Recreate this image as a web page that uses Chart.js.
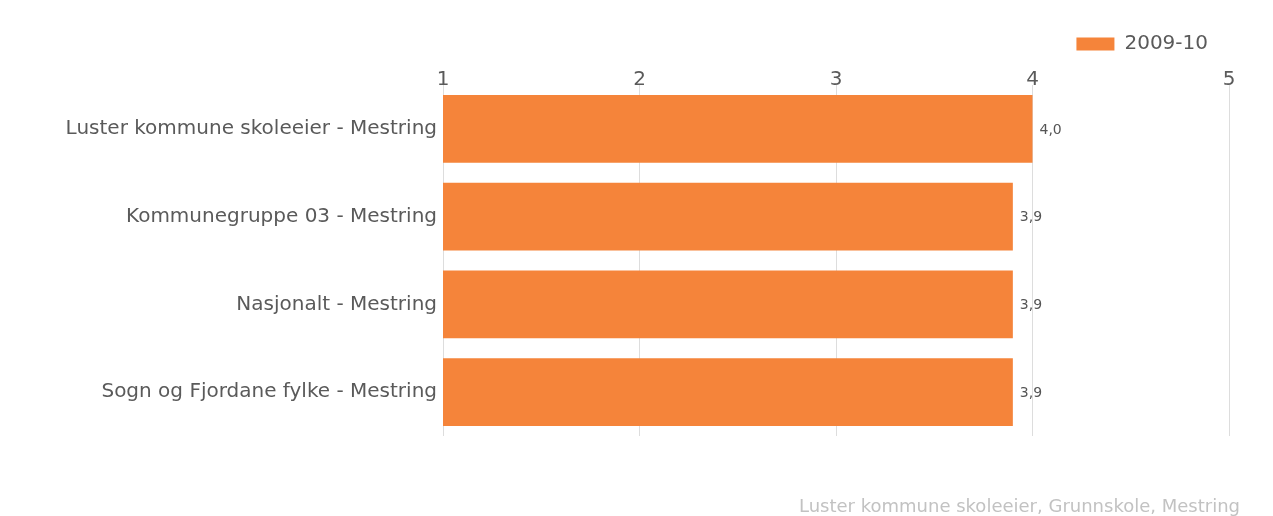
<!DOCTYPE html>
<html><head><meta charset="utf-8">
<script src="https://cdn.jsdelivr.net/npm/chart.js@4"></script>
<style>
html,body{margin:0;padding:0;background:#fff}
#w{position:relative;width:1273px;height:516px}
#foot{position:absolute;right:33px;top:495px;font:18px 'DejaVu Sans',Verdana,sans-serif;color:#c2c2c2;line-height:22px;white-space:nowrap}
</style>
</head><body><div id="w"><canvas id="c"></canvas><div id="foot"></div></div>
<script>
const categories = ["Luster kommune skoleeier - Mestring","Kommunegruppe 03 - Mestring","Nasjonalt - Mestring","Sogn og Fjordane fylke - Mestring"];
const seriesName = "2009-10";
const values = [4.0, 3.9, 3.9, 3.9];
const tickMin = 1, tickMax = 5;
const footerText = "Luster kommune skoleeier, Grunnskole, Mestring";
const FONT = "'DejaVu Sans', Verdana, sans-serif";
document.getElementById('foot').textContent = footerText;

const valueLabels = {
  id: 'valueLabels',
  afterDatasetsDraw(chart) {
    const ctx = chart.ctx;
    const meta = chart.getDatasetMeta(0);
    ctx.save();
    ctx.font = "14px " + FONT;
    ctx.fillStyle = "#555";
    ctx.textBaseline = "middle";
    meta.data.forEach((el, i) => {
      ctx.fillText(values[i].toFixed(1).replace('.', ','), el.x + 7, el.y + 1);
    });
    ctx.restore();
  }
};

new Chart(document.getElementById('c'), {
  type: 'bar',
  data: { labels: categories, datasets: [{ label: seriesName, data: values, backgroundColor: '#F5843A', borderWidth: 0, barPercentage: 0.773, categoryPercentage: 1 }] },
  options: {
    indexAxis: 'y', responsive: true, maintainAspectRatio: false, animation: false,
    layout: { padding: { top: 13, right: 44, bottom: 80, left: 0 } },
    scales: {
      x: { position: 'top', min: tickMin, max: tickMax,
        ticks: { stepSize: 1, color: '#5a5a5a', font: { family: FONT, size: 20, lineHeight: 1 }, padding: -5 },
        grid: { color: '#dddddd', drawTicks: false }, border: { display: false },
        afterFit(s) { s.height = 21; } },
      y: { ticks: { color: '#5a5a5a', font: { family: FONT, size: 20 }, padding: 6 },
        grid: { display: false, drawTicks: false }, border: { display: false },
        afterFit(s) { s.width = 443; } }
    },
    plugins: {
      legend: { position: 'top', align: 'end', labels: { boxWidth: 38, boxHeight: 13, color: '#5a5a5a', font: { family: FONT, size: 20 }, padding: 21 } },
      tooltip: { enabled: false }
    }
  },
  plugins: [valueLabels]
});
</script></body></html>
